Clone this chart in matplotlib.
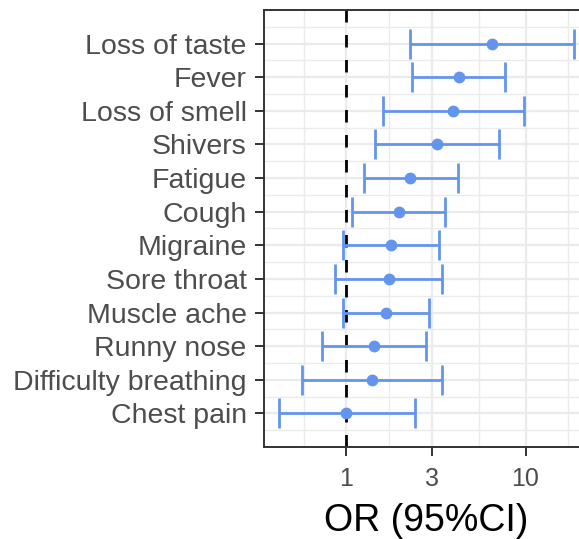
import matplotlib
matplotlib.use("Agg")
import matplotlib.pyplot as plt
import numpy as np

symptoms = ["Loss of taste", "Fever", "Loss of smell", "Shivers", "Fatigue", "Cough",
            "Migraine", "Sore throat", "Muscle ache", "Runny nose",
            "Difficulty breathing", "Chest pain"]
odds_ratio = [6.47, 4.23, 3.95, 3.22, 2.27, 1.97, 1.78, 1.74, 1.67, 1.42, 1.39, 1.00]
ci_low = [2.27, 2.33, 1.61, 1.45, 1.26, 1.08, 0.96, 0.861, 0.96, 0.735, 0.565, 0.42]
ci_high = [18.7, 7.64, 9.75, 7.14, 4.19, 3.55, 3.29, 3.43, 2.90, 2.78, 3.43, 2.42]
x_ticks = [1, 3, 10]
x_tick_labels = ["1", "3", "10"]

plt.rcParams['font.family'] = ['Liberation Sans', 'DejaVu Sans']

W, H = 579, 539
fig = plt.figure(figsize=(W / 100, H / 100), dpi=100)
ax = fig.add_axes([264 / W, 92 / H, 325 / W, 437 / H])

n = len(symptoms)
ypos = np.arange(n, 0, -1)

# gridlines
lo_log = np.log10(min(ci_low))
hi_log = np.log10(max(ci_high))
rng = hi_log - lo_log
xlim = (10 ** (lo_log - 0.05 * rng), 10 ** (hi_log + 0.05 * rng))
minor_x = [10 ** (-0.2386), 10 ** 0.2386, 10 ** 0.7386, 10 ** 1.2386]
grid_c = "#EBEBEB"
for xv in minor_x:
    ax.axvline(xv, color=grid_c, lw=1.0, zorder=0)
for xv in x_ticks:
    ax.axvline(xv, color=grid_c, lw=1.6, zorder=0)
for yv in np.arange(0.5, n + 1, 1.0):
    ax.axhline(yv, color=grid_c, lw=1.0, zorder=0)
for yv in ypos:
    ax.axhline(yv, color=grid_c, lw=1.6, zorder=0)

ax.axvline(1, color="black", lw=2.0, ls=(0, (4.5, 4.5)), zorder=1)

col = "#6495ED"
x = np.array(odds_ratio)
err = np.vstack([x - np.array(ci_low), np.array(ci_high) - x])
ax.errorbar(x, ypos, xerr=err, fmt="o", color=col, ecolor=col, elinewidth=2.0,
            capsize=11, capthick=2.0, markersize=7.5, zorder=3)

ax.set_xscale("log")
ax.set_xlim(*xlim)
ax.set_ylim(0, n + 1)
ax.set_xticks(x_ticks)
ax.set_xticklabels(x_tick_labels)
ax.xaxis.set_minor_locator(matplotlib.ticker.NullLocator())
ax.set_yticks(ypos)
ax.set_yticklabels(symptoms)

ax.tick_params(axis="both", colors="#333333", labelcolor="#4D4D4D", length=6.5, width=1.4)
ax.tick_params(axis="y", labelsize=20.5, pad=6)
ax.tick_params(axis="x", labelsize=18, pad=8)
for s in ax.spines.values():
    s.set_color("#333333")
    s.set_linewidth(1.4)

ax.set_xlabel("OR (95%CI)", fontsize=27, color="black", labelpad=8.5)

fig.savefig("out.png", dpi=100)
